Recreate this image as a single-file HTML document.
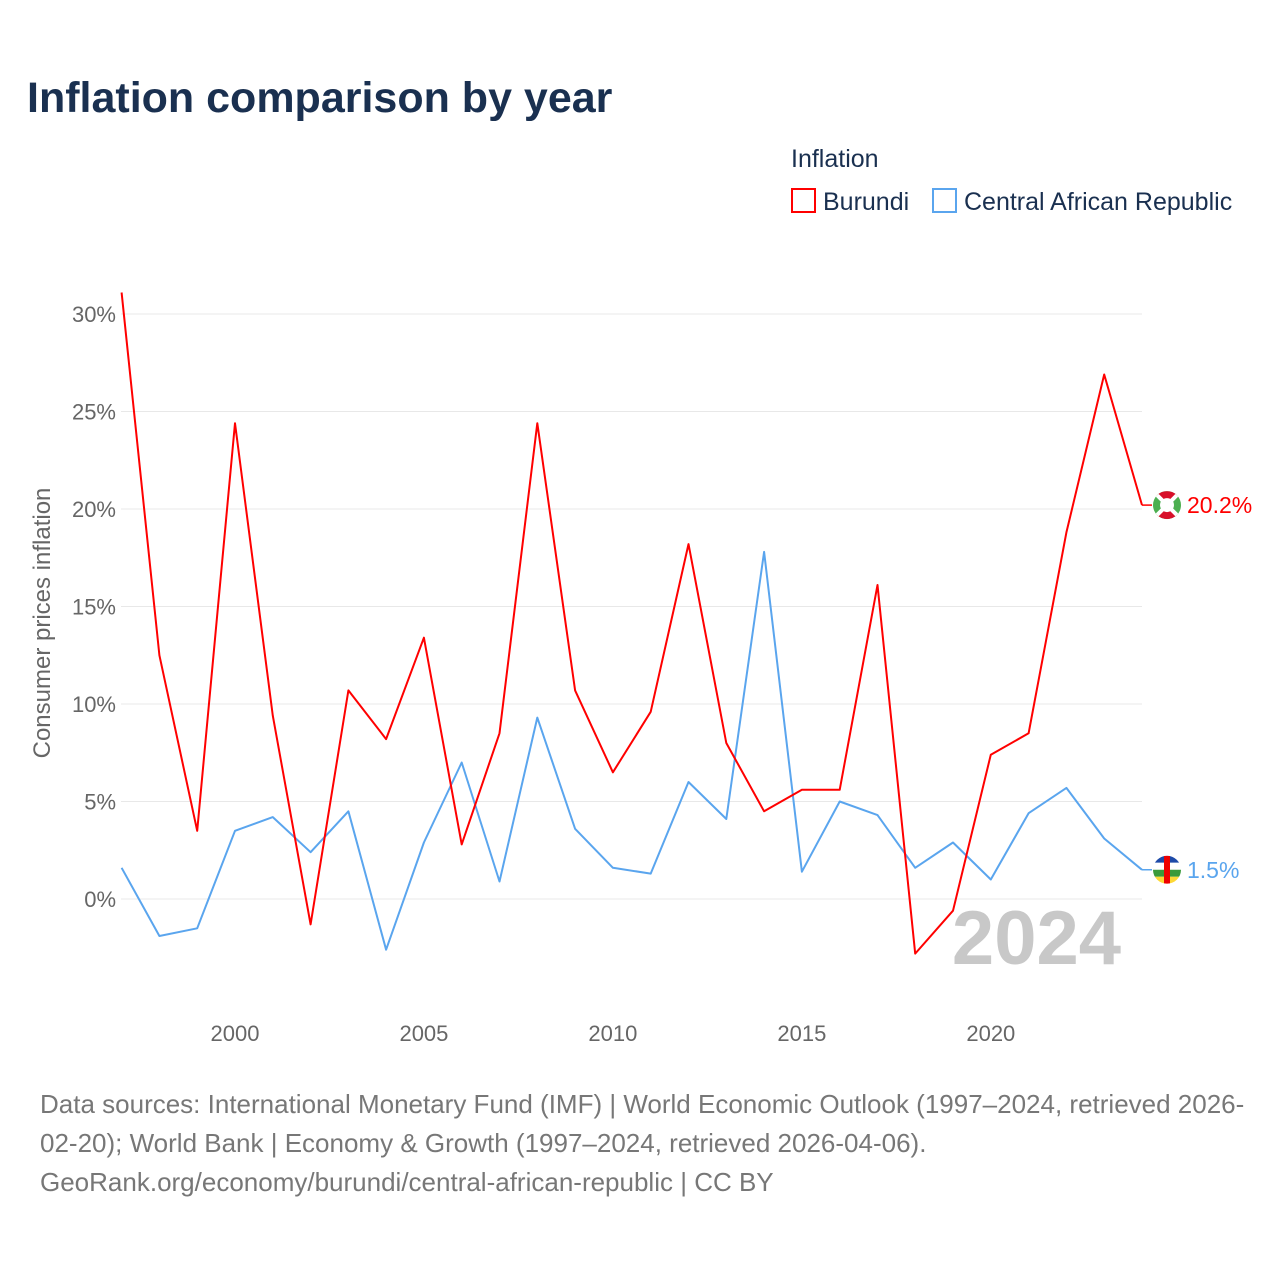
<!DOCTYPE html>
<html><head><meta charset="utf-8"><style>
body{margin:0;background:#fff;font-family:"Liberation Sans",sans-serif;}
</style></head><body>
<svg id="chart" width="1280" height="1280" viewBox="0 0 1280 1280" xmlns="http://www.w3.org/2000/svg" font-family="Liberation Sans, sans-serif">
<rect width="1280" height="1280" fill="#fff"/>
<text x="27" y="112" font-size="43" font-weight="bold" fill="#1a3050">Inflation comparison by year</text>
<text x="791" y="167" font-size="25" fill="#1a3050">Inflation</text>
<g><rect x="792" y="189" width="23" height="23" fill="none" stroke="#f00" stroke-width="2"/><text x="823" y="210" font-size="25" fill="#1a3050">Burundi</text></g>
<g><rect x="933" y="189" width="23" height="23" fill="none" stroke="#5aa5ee" stroke-width="2"/><text x="964" y="210" font-size="25" fill="#1a3050">Central African Republic</text></g>
<text transform="translate(50,623) rotate(-90)" text-anchor="middle" font-size="24" fill="#666">Consumer prices inflation</text>
<g id="grid"></g><g id="ticks"></g>
<text x="1121" y="964" text-anchor="end" font-size="76" font-weight="bold" fill="#c8c8c8">2024</text>
<defs id="defs"></defs>
<g id="series"></g>
<text font-size="26" fill="#777"><tspan x="40" y="1113">Data sources: International Monetary Fund (IMF) | World Economic Outlook (1997–2024, retrieved 2026-</tspan><tspan x="40" y="1152">02-20); World Bank | Economy &amp; Growth (1997–2024, retrieved 2026-04-06).</tspan><tspan x="40" y="1191">GeoRank.org/economy/burundi/central-african-republic | CC BY</tspan></text>
</svg>
<script>
const years=[1997,1998,1999,2000,2001,2002,2003,2004,2005,2006,2007,2008,2009,2010,2011,2012,2013,2014,2015,2016,2017,2018,2019,2020,2021,2022,2023,2024];
const burundi=[31.1,12.5,3.5,24.4,9.4,-1.3,10.7,8.2,13.4,2.8,8.5,24.4,10.7,6.5,9.6,18.2,8.0,4.5,5.6,5.6,16.1,-2.8,-0.6,7.4,8.5,18.8,26.9,20.2];
const car=[1.6,-1.9,-1.5,3.5,4.2,2.4,4.5,-2.6,2.9,7.0,0.9,9.3,3.6,1.6,1.3,6.0,4.1,17.8,1.4,5.0,4.3,1.6,2.9,1.0,4.4,5.7,3.1,1.5];
const yTicks=[0,5,10,15,20,25,30];
const xTicks=[2000,2005,2010,2015,2020];
const NS="http://www.w3.org/2000/svg";
const xs=y=>121.6+(y-1997)*(1142-121.6)/27;
const ys=v=>899-v*19.5;
function mk(t,a,p){const e=document.createElementNS(NS,t);for(const k in a)e.setAttribute(k,a[k]);p.appendChild(e);return e;}
const grid=document.getElementById('grid'),ticks=document.getElementById('ticks'),ser=document.getElementById('series'),defs=document.getElementById('defs');
yTicks.forEach(v=>{
 const l=mk('line',{x1:121,x2:1142,y1:ys(v),y2:ys(v),stroke:'#e8e8e8','stroke-width':1},grid);
 
 
 const t=mk('text',{x:116,y:ys(v)+8,'text-anchor':'end','font-size':22,fill:'#666'},ticks);
 t.textContent=v+'%';
 
 
});
xTicks.forEach(y=>{
 const t=mk('text',{x:xs(y),y:1041,'text-anchor':'middle','font-size':22,fill:'#666'},ticks);
 t.textContent=y;
 
 
});
function line(vals,color,name){
 const d=vals.map((v,i)=>(i?'L':'M')+xs(years[i]).toFixed(1)+','+ys(v).toFixed(1)).join(' ');
 const p=mk('path',{d:d,fill:'none',stroke:color,'stroke-width':2,'stroke-linejoin':'round'},ser);
 
 
 const last=vals[vals.length-1],yy=ys(last);
 mk('line',{x1:1142,x2:1152,y1:yy,y2:yy,stroke:color,'stroke-width':1.5},ser);
 const cp=mk('clipPath',{id:'clip-'+name},defs);
 mk('circle',{cx:1167,cy:yy,r:14},cp);
 const g=mk('g',{'clip-path':'url(#clip-'+name+')'},ser);
 
 
 if(name==='burundi'){
  mk('rect',{x:1153,y:yy-14,width:28,height:28,fill:'#4caf50'},g);
  mk('path',{d:`M1153,${yy-14}L1181,${yy-14}L1167,${yy}Z M1153,${yy+14}L1181,${yy+14}L1167,${yy}Z`,fill:'#d8102a'},g);
  mk('line',{x1:1153,y1:yy-14,x2:1181,y2:yy+14,stroke:'#fff','stroke-width':4},g);
  mk('line',{x1:1181,y1:yy-14,x2:1153,y2:yy+14,stroke:'#fff','stroke-width':4},g);
  mk('circle',{cx:1167,cy:yy,r:7,fill:'#fff'},g);
 } else {
  mk('rect',{x:1153,y:yy-14,width:28,height:7,fill:'#1e4aa8'},g);
  mk('rect',{x:1153,y:yy-7,width:28,height:7,fill:'#fff'},g);
  mk('rect',{x:1153,y:yy,width:28,height:7,fill:'#3a9a3a'},g);
  mk('rect',{x:1153,y:yy+7,width:28,height:7,fill:'#fdd835'},g);
  mk('rect',{x:1164,y:yy-14,width:6,height:28,fill:'#e00'},g);
 }
 const t=mk('text',{x:1187,y:yy+8,'font-size':23,fill:color},ser);
 t.textContent=last.toFixed(1)+'%';
 
 
}
line(car,'#5aa5ee','car');
line(burundi,'#f00','burundi');
</script>
</body></html>
